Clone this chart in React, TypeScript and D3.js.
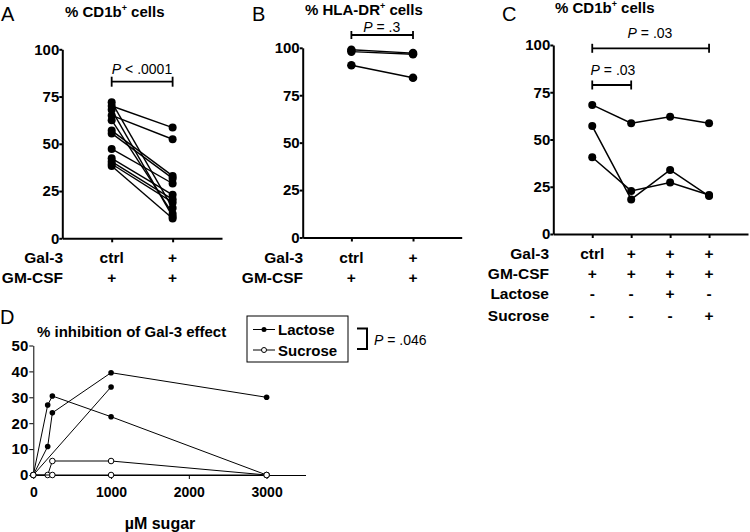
import React, { useEffect, useRef } from 'react'
import * as d3 from 'd3'

const FONT = '"Liberation Sans", Arial, sans-serif'

// A: % CD1b+ cells, paired donors (ctrl vs Gal-3)
const aCtrl = [72, 70, 68, 65, 62.5, 57, 55.5, 47.3, 42.3, 40.6, 39.3, 38.3]
const aGal3 = [16, 58.6, 11.5, 52.4, 13, 33, 31.7, 29, 23, 20.6, 19, 10.5]
// B: % HLA-DR+ cells
const bCtrl = [99, 98, 90.8]
const bGal3 = [97.2, 96.6, 84.2]
// C: % CD1b+ cells across four conditions
const cCats = ['ctrl', 'gal3', 'lactose', 'sucrose']
const cDonor1 = [68.3, 58.6, 62, 58.6]
const cDonor2 = [57.1, 18.3, 33.9, 20.1]
const cDonor3 = [40.6, 22.8, 27.2, 20.6]
// row labels under the x axes
const abRowNames = ['Gal-3', 'GM-CSF']
const abGal3Row = ['ctrl', '+']
const abGmRow = ['+', '+']
const cRowNames = ['Gal-3', 'GM-CSF', 'Lactose', 'Sucrose']
const cGal3Row = ['ctrl', '+', '+', '+']
const cGmRow = ['+', '+', '+', '+']
const cLacRow = ['-', '-', '+', '-']
const cSucRow = ['-', '-', '-', '+']
const pctTicks = [0, 25, 50, 75, 100]
// D: % inhibition vs sugar dose (µM)
const lacDose1 = [0, 185, 245, 1000, 3000]
const lacInh1 = [0, 27, 30.5, 22.5, 0]
const lacDose2 = [0, 185, 245, 1000, 3000]
const lacInh2 = [0, 11, 24, 39.5, 30]
const lacDose3 = [0, 1000]
const lacInh3 = [0, 34]
const sucDose1 = [0, 185, 245, 1000, 3000]
const sucInh1 = [0, 0, 5.4, 5.4, 0]
const sucDose2 = [0, 245, 1000, 3000]
const sucInh2 = [0, 0, 0, 0]
const dYTicks = [0, 10, 20, 30, 40, 50]
const dXTicks = [0, 1000, 2000, 3000]

function Axis({ axis, transform, fontSize, width }: any) {
  const ref = useRef<SVGGElement>(null)
  useEffect(() => {
    const g = d3.select(ref.current)
    g.call(axis)
    g.attr('font-family', FONT)
    g.selectAll('path,line').attr('stroke', '#000').attr('stroke-width', width)
    g.selectAll('text')
      .style('font-size', fontSize + 'px')
      .style('font-weight', 'bold')
      .style('font-family', FONT)
      .attr('fill', '#000')
  })
  return <g ref={ref} transform={transform} />
}

function Bracket({ x1, x2, y, cap }: any) {
  return (
    <g stroke="#000" strokeWidth={1.8} fill="none">
      <line x1={x1} x2={x2} y1={y} y2={y} />
      <line x1={x1} x2={x1} y1={y - cap} y2={y + cap} />
      <line x1={x2} x2={x2} y1={y - cap} y2={y + cap} />
    </g>
  )
}

function PText({ x, y, rest, anchor = 'middle' }: any) {
  return (
    <text x={x} y={y} textAnchor={anchor} fontSize={14} fontFamily={FONT}>
      <tspan fontStyle="italic">P</tspan>{rest}
    </text>
  )
}

function Rows({ names, rows, x, nameX, ys }: any) {
  return (
    <g fontFamily={FONT} fontWeight="bold" fontSize={15.5}>
      {names.map((n: string, i: number) => (
        <g key={n}>
          <text x={nameX} y={ys[i]} textAnchor="end">{n}</text>
          {rows[i].map((v: string, j: number) => (
            <text key={j} x={x(j)} y={ys[i]} textAnchor="middle">{v}</text>
          ))}
        </g>
      ))}
    </g>
  )
}

function Paired({ x, y, left, right, r }: any) {
  return (
    <g>
      {left.map((v: number, i: number) => (
        <line key={i} x1={x(0)} x2={x(1)} y1={y(v)} y2={y(right[i])} stroke="#000" strokeWidth={1.4} />
      ))}
      {left.map((v: number, i: number) => <circle key={'l' + i} cx={x(0)} cy={y(v)} r={r} fill="#000" />)}
      {right.map((v: number, i: number) => <circle key={'r' + i} cx={x(1)} cy={y(v)} r={r} fill="#000" />)}
    </g>
  )
}

export default function App() {
  // panel A
  const yA = d3.scaleLinear().domain([0, 100]).range([238.3, 49.3])
  const xA = d3.scalePoint().domain(['0', '1']).range([62.3, 222]).padding(0.81)
  const xAi = (i: number) => xA(String(i)) as number
  // panel B
  const yB = d3.scaleLinear().domain([0, 100]).range([237.5, 47.8])
  const xB = d3.scalePoint().domain(['0', '1']).range([302.7, 461.7]).padding(0.79)
  const xBi = (i: number) => xB(String(i)) as number
  // panel C
  const yC = d3.scaleLinear().domain([0, 100]).range([234, 45])
  const xC = d3.scalePoint().domain(cCats).range([553.3, 748]).padding(1)
  const xCi = (i: number) => xC(cCats[i]) as number
  // panel D
  const xD = d3.scaleLinear().domain([0, 3500]).range([33.3, 305.5])
  const yD = d3.scaleLinear().domain([0, 50]).range([475, 345.5])
  const lineD = (xs: number[], ys: number[]) =>
    d3.line<number>().x((d, i) => xD(xs[i])).y(d => yD(d))(ys) as string

  const lac = [[lacDose1, lacInh1], [lacDose2, lacInh2], [lacDose3, lacInh3]]
  const suc = [[sucDose1, sucInh1], [sucDose2, sucInh2]]
  const cDonors = [cDonor1, cDonor2, cDonor3]

  return (
    <svg width={750} height={532} style={{ position: 'absolute', left: 0, top: 0, background: '#fff' }}
      fontFamily={FONT}>
      <rect width={750} height={532} fill="#fff" />

      {/* A */}
      <text x={1} y={21} fontSize={20}>A</text>
      <text x={65} y={17} fontSize={15} fontWeight="bold">% CD1b<tspan fontSize={9} dy={-6}>+</tspan><tspan dy={6}> cells</tspan></text>
      <Axis axis={d3.axisLeft(yA).tickValues(pctTicks).tickSize(3).tickPadding(0).tickSizeOuter(0)}
        transform="translate(62.3,0)" fontSize={15} width={2} />
      <Axis axis={d3.axisBottom(xA).tickSize(4).tickSizeOuter(0).tickFormat(() => '')}
        transform="translate(0,238.3)" fontSize={15} width={2} />
      <Paired x={xAi} y={yA} left={aCtrl} right={aGal3} r={4} />
      <Bracket x1={xAi(0)} x2={xAi(1)} y={81.7} cap={5} />
      <PText x={142} y={74} rest=" < .0001" />
      <Rows names={abRowNames} rows={[abGal3Row, abGmRow]} x={xAi} nameX={63} ys={[263, 283]} />

      {/* B */}
      <text x={252} y={21} fontSize={20}>B</text>
      <text x={305} y={15} fontSize={15} fontWeight="bold">% HLA-DR<tspan fontSize={9} dy={-6}>+</tspan><tspan dy={6}> cells</tspan></text>
      <Axis axis={d3.axisLeft(yB).tickValues(pctTicks).tickSize(3).tickPadding(0).tickSizeOuter(0)}
        transform="translate(302.7,0)" fontSize={15} width={2} />
      <Axis axis={d3.axisBottom(xB).tickSize(4).tickSizeOuter(0).tickFormat(() => '')}
        transform="translate(0,237.5)" fontSize={15} width={2} />
      <Paired x={xBi} y={yB} left={bCtrl} right={bGal3} r={4.3} />
      <Bracket x1={xBi(0)} x2={xBi(1)} y={35} cap={4} />
      <PText x={381.7} y={32} rest=" = .3" />
      <Rows names={abRowNames} rows={[abGal3Row, abGmRow]} x={xBi} nameX={303} ys={[263, 283]} />

      {/* C */}
      <text x={502} y={21} fontSize={20}>C</text>
      <text x={555} y={13} fontSize={15} fontWeight="bold">% CD1b<tspan fontSize={9} dy={-6}>+</tspan><tspan dy={6}> cells</tspan></text>
      <Axis axis={d3.axisLeft(yC).tickValues(pctTicks).tickSize(3).tickPadding(0).tickSizeOuter(0)}
        transform="translate(553.3,0)" fontSize={15} width={2} />
      <Axis axis={d3.axisBottom(xC).tickSize(4).tickSizeOuter(0).tickFormat(() => '')}
        transform="translate(0,234)" fontSize={15} width={2} />
      {cDonors.map((s, k) => (
        <g key={k}>
          <path d={d3.line<number>().x((d, i) => xCi(i)).y(d => yC(d))(s) as string}
            fill="none" stroke="#000" strokeWidth={1.5} />
          {s.map((v, i) => <circle key={i} cx={xCi(i)} cy={yC(v)} r={4} fill="#000" />)}
        </g>
      ))}
      <Bracket x1={xCi(0)} x2={xCi(3)} y={48.3} cap={4.5} />
      <PText x={650} y={38} rest=" = .03" />
      <Bracket x1={xCi(0)} x2={xCi(1)} y={85} cap={4.5} />
      <PText x={613} y={75} rest=" = .03" />
      <Rows names={cRowNames} rows={[cGal3Row, cGmRow, cLacRow, cSucRow]} x={xCi} nameX={549}
        ys={[259, 279, 299, 321]} />

      {/* D */}
      <text x={0} y={324} fontSize={20}>D</text>
      <text x={37} y={337} fontSize={15} fontWeight="bold">% inhibition of Gal-3 effect</text>
      <Axis axis={d3.axisLeft(yD).tickValues(dYTicks).tickSize(4).tickPadding(1).tickSizeOuter(0)}
        transform="translate(33.3,0)" fontSize={15} width={1} />
      <Axis axis={d3.axisBottom(xD).tickValues(dXTicks).tickFormat(d3.format('d')).tickSize(4).tickPadding(8).tickSizeOuter(0)}
        transform="translate(0,475)" fontSize={14} width={1} />
      {lac.map(([xs, ys], k) => (
        <g key={'lac' + k}>
          <path d={lineD(xs, ys)} fill="none" stroke="#000" strokeWidth={1} />
          {ys.map((v, i) => <circle key={i} cx={xD(xs[i])} cy={yD(v)} r={2.8} fill="#000" />)}
        </g>
      ))}
      {suc.map(([xs, ys], k) => (
        <g key={'suc' + k}>
          <path d={lineD(xs, ys)} fill="none" stroke="#000" strokeWidth={1} />
          {ys.map((v, i) => <circle key={i} cx={xD(xs[i])} cy={yD(v)} r={2.8} fill="#fff" stroke="#000" strokeWidth={1} />)}
        </g>
      ))}
      <text x={160} y={529} textAnchor="middle" fontSize={16} fontWeight="bold">µM sugar</text>

      {/* legend */}
      <rect x={247} y={316} width={101} height={46} fill="#fff" stroke="#000" strokeWidth={1} />
      <line x1={253} x2={275} y1={329.5} y2={329.5} stroke="#000" strokeWidth={1} />
      <circle cx={264} cy={329.5} r={2.5} fill="#000" />
      <text x={278} y={335} fontSize={15} fontWeight="bold">Lactose</text>
      <line x1={253} x2={275} y1={350} y2={350} stroke="#000" strokeWidth={1} />
      <circle cx={264} cy={350} r={2.5} fill="#fff" stroke="#000" strokeWidth={1} />
      <text x={278} y={356} fontSize={15} fontWeight="bold">Sucrose</text>
      <path d="M357,328.5H367V349H357" fill="none" stroke="#000" strokeWidth={2} />
      <PText x={374} y={345} rest=" = .046" anchor="start" />
    </svg>
  )
}
